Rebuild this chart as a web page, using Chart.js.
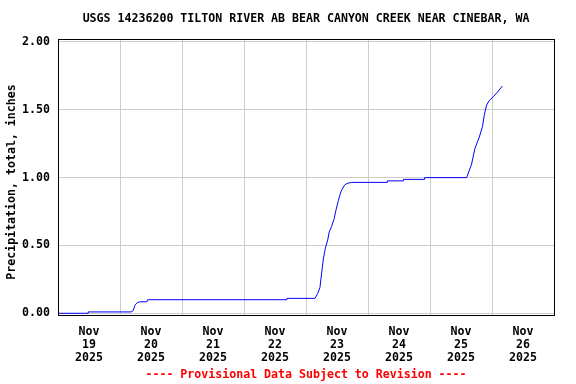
<!DOCTYPE html>
<html>
<head>
<meta charset="utf-8">
<script src="https://cdn.jsdelivr.net/npm/chart.js@4"></script>
<style>
html,body{margin:0;padding:0;background:#fff;}
#wrap{width:576px;height:384px;}
</style>
</head>
<body>
<div id="wrap"><canvas id="c" width="576" height="384"></canvas></div>
<script>
// Hours since Nov 19 2025 00:00
const hours = [0, 11.7, 11.7, 28.3, 29.1, 29.8, 30.8, 32.1, 34.4, 34.7, 88.6, 88.6, 99.5, 100.5, 101.4, 102.2, 102.7, 103.5, 104.4, 105.0, 105.9, 106.8, 107.6, 108.5, 109.5, 110.7, 111.8, 113.7, 127.5, 127.5, 133.7, 133.7, 141.9, 141.9, 158.2, 160.1, 161.4, 163.1, 164.3, 165.0, 165.9, 167.0, 168.5, 170.1, 172.0];
const precip = [0, 0, 0.01, 0.01, 0.02, 0.06, 0.08, 0.085, 0.085, 0.10, 0.10, 0.11, 0.11, 0.145, 0.19, 0.32, 0.40, 0.48, 0.54, 0.60, 0.64, 0.69, 0.76, 0.83, 0.895, 0.94, 0.957, 0.965, 0.965, 0.976, 0.976, 0.987, 0.987, 1.00, 1.00, 1.10, 1.215, 1.30, 1.375, 1.46, 1.535, 1.57, 1.596, 1.63, 1.675];
const dayLabels = ['19', '20', '21', '22', '23', '24', '25', '26'];
const monthLabel = 'Nov';
const yearLabel = '2025';
const yTicks = [0, 0.5, 1.0, 1.5, 2.0];
const titleText = 'USGS 14236200 TILTON RIVER AB BEAR CANYON CREEK NEAR CINEBAR, WA';
const yTitle = 'Precipitation, total, inches';
const footerText = '---- Provisional Data Subject to Revision ----';

const FONT = "'DejaVu Sans Mono', monospace";
const FS = 11.6;

const xTicks = [];
for (let h = 0; h <= 192; h += 12) xTicks.push(h);

const textPlugin = {
  id: 'texts',
  afterDraw(chart) {
    const ctx = chart.ctx;
    const a = chart.chartArea;
    ctx.save();
    ctx.strokeStyle = '#000';
    ctx.lineWidth = 1;
    ctx.strokeRect(a.left + 0.5, a.top + 0.5, a.right - a.left, a.bottom - a.top - 1);
    ctx.font = 'bold ' + FS + 'px ' + FONT;
    ctx.textAlign = 'center';
    ctx.textBaseline = 'middle';
    ctx.fillStyle = '#000';
    const cx = (a.left + a.right) / 2;
    ctx.fillText(titleText, cx, 19);
    ctx.fillStyle = '#ff0000';
    ctx.fillText(footerText, cx, 375);
    ctx.fillStyle = '#000';
    ctx.translate(12, 182);
    ctx.rotate(-Math.PI / 2);
    ctx.fillText(yTitle, 0, 0);
    ctx.restore();
  }
};

new Chart(document.getElementById('c'), {
  type: 'line',
  data: {
    datasets: [{
      data: hours.map((h, i) => ({x: h, y: precip[i]})),
      borderColor: '#0000ff',
      borderWidth: 1,
      pointRadius: 0,
      tension: 0,
      fill: false
    }]
  },
  options: {
    responsive: false,
    devicePixelRatio: 1,
    animation: false,
    layout: {padding: {top: 39, right: 22, left: 0, bottom: 0}},
    plugins: {legend: {display: false}, title: {display: false}, tooltip: {enabled: false}},
    scales: {
      x: {
        type: 'linear',
        min: 0,
        max: 192,
        afterBuildTicks: s => { s.ticks = xTicks.map(v => ({value: v})); },
        afterFit: s => { s.height = 68; },
        border: {display: false},
        grid: {
          drawTicks: false,
          lineWidth: 1,
          color: c => (c.tick && c.tick.value % 24 === 0 && c.tick.value > 0 && c.tick.value < 192) ? '#cccccc' : 'rgba(0,0,0,0)'
        },
        ticks: {
          autoSkip: false,
          maxRotation: 0,
          minRotation: 0,
          padding: 10,
          color: '#000',
          font: {family: FONT, size: FS, weight: 'bold', lineHeight: 1.1},
          callback: v => (v % 24 === 12) ? [monthLabel, dayLabels[Math.floor(v / 24)], yearLabel] : ''
        }
      },
      y: {
        type: 'linear',
        min: -0.02,
        max: 2.022,
        afterBuildTicks: s => { s.ticks = yTicks.map(v => ({value: v})); },
        afterFit: s => { s.width = 58; },
        border: {display: false},
        grid: {drawTicks: false, color: '#cccccc', lineWidth: 1},
        ticks: {
          padding: 8,
          color: '#000',
          font: {family: FONT, size: FS, weight: 'bold'},
          callback: v => Number(v).toFixed(2)
        }
      }
    }
  },
  plugins: [textPlugin]
});
</script>
</body>
</html>
